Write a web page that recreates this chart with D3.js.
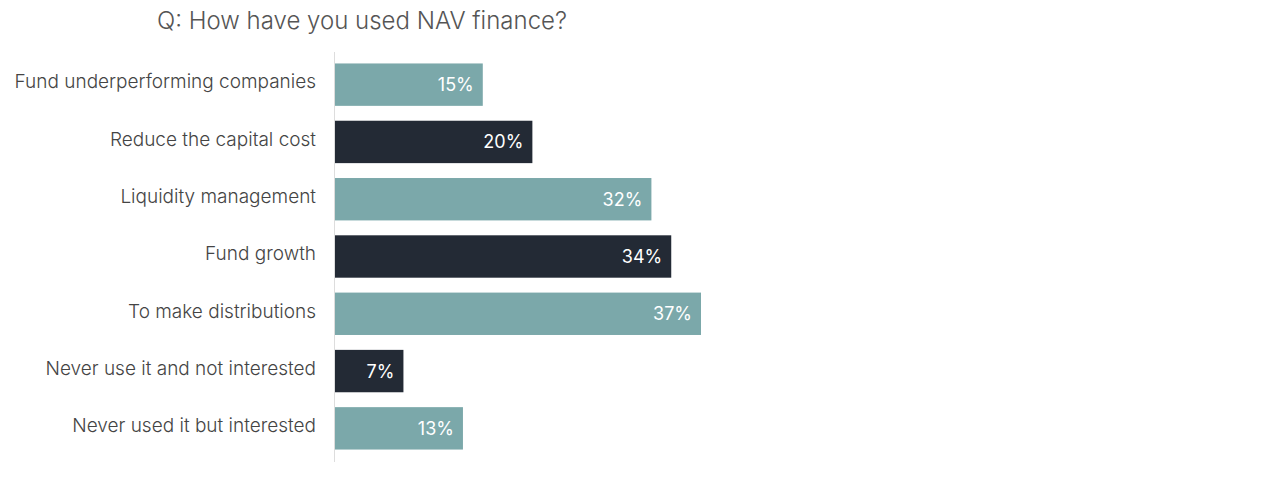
<!DOCTYPE html>
<html>
<head>
<meta charset="utf-8">
<script src="https://cdn.jsdelivr.net/npm/d3@7"></script>
<style>
  body { margin: 0; background: #fff; }
  text { font-family: Inter, "Noto Sans", sans-serif; }
</style>
</head>
<body>
<svg id="chart" width="1288" height="481"></svg>
<script>
const categories = [
  'Fund underperforming companies',
  'Reduce the capital cost',
  'Liquidity management',
  'Fund growth',
  'To make distributions',
  'Never use it and not interested',
  'Never used it but interested'
];
const values = [15, 20, 32, 34, 37, 7, 13];
const colors = ['#7ba8aa', '#232a35'];
const title = 'Q: How have you used NAV finance?';

const svg = d3.select('#chart');
const left = 334;

const x = d3.scaleLinear().domain([0, 37]).range([left, 701]);
const y = d3.scaleBand().domain(categories).range([52, 461]).paddingInner(0.26).paddingOuter(0.2);

svg.append('text')
  .attr('x', 157).attr('y', 29)
  .attr('font-size', 24).attr('fill', '#555')
  .attr('font-weight', 300)
  .text(title);

// Axis line
svg.append('line')
  .attr('x1', left + 0.5).attr('x2', left + 0.5)
  .attr('y1', 52).attr('y2', 462)
  .attr('stroke', '#ddd');

const rows = svg.selectAll('g.row')
  .data(categories.map((c, i) => ({ c, v: values[i], i })))
  .join('g').attr('class', 'row');

rows.append('rect')
  .attr('x', left + 1)
  .attr('y', d => y(d.c))
  .attr('width', d => x(d.v) - left - 1)
  .attr('height', y.bandwidth())
  .attr('fill', d => colors[d.i % 2]);

rows.append('text')
  .attr('x', d => x(d.v) - 9)
  .attr('y', d => y(d.c) + y.bandwidth() / 2)
  .attr('dy', '0.36em')
  .attr('text-anchor', 'end')
  .attr('font-size', 18).attr('fill', '#fff')
  .text(d => d.v + '%');

rows.append('text')
  .attr('x', 316)
  .attr('y', d => y(d.c) + y.bandwidth() / 2)
  .attr('dy', '0.2em')
  .attr('text-anchor', 'end')
  .attr('font-size', 19).attr('fill', '#444')
  .attr('font-weight', 300)
  .text(d => d.c);
</script>
</body>
</html>
